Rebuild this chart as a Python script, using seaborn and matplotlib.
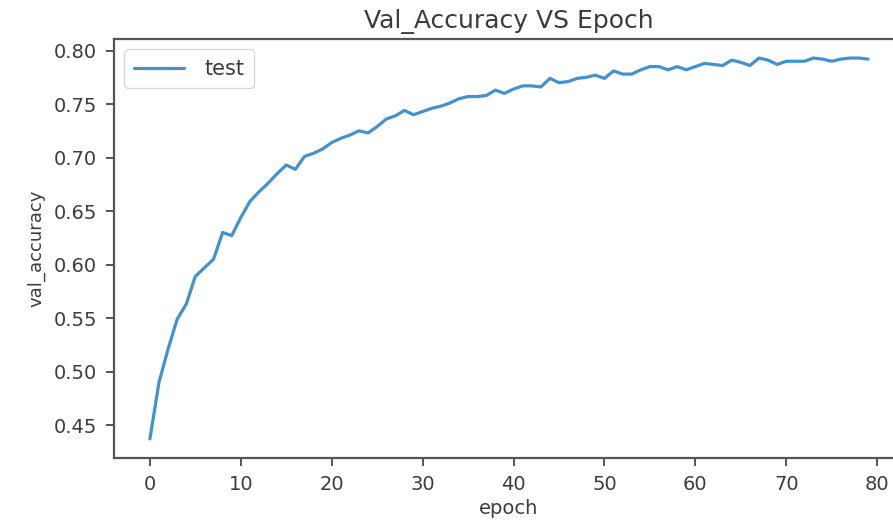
import matplotlib
matplotlib.use('Agg')
import matplotlib.pyplot as plt
import seaborn as sns
import numpy as np

# Validation accuracy per epoch
val_accuracy = [0.437, 0.490, 0.521, 0.549, 0.563, 0.589, 0.597, 0.605, 0.630, 0.627,
                0.644, 0.659, 0.668, 0.676, 0.685, 0.693, 0.689, 0.701, 0.704, 0.708,
                0.714, 0.718, 0.721, 0.725, 0.723, 0.729, 0.736, 0.739, 0.744, 0.740,
                0.743, 0.746, 0.748, 0.751, 0.755, 0.757, 0.757, 0.758, 0.763, 0.760,
                0.764, 0.767, 0.767, 0.766, 0.774, 0.770, 0.771, 0.774, 0.775, 0.777,
                0.774, 0.781, 0.778, 0.778, 0.782, 0.785, 0.785, 0.782, 0.785, 0.782,
                0.785, 0.788, 0.787, 0.786, 0.791, 0.789, 0.786, 0.793, 0.791, 0.787,
                0.790, 0.790, 0.790, 0.793, 0.792, 0.790, 0.792, 0.793, 0.793, 0.792]
epochs = np.arange(len(val_accuracy))
x_ticks = [0, 10, 20, 30, 40, 50, 60, 70, 80]
y_ticks = [0.45, 0.50, 0.55, 0.60, 0.65, 0.70, 0.75, 0.80]

sns.set_style('ticks')
plt.rcParams['font.family'] = ['DejaVu Sans']
text_col = '#3c3c3c'

fig = plt.figure(figsize=(8.93, 5.25), dpi=100)
# axes run past the right edge, like the cropped original
ax = fig.add_axes([114 / 893, 67 / 525, 790 / 893, 419 / 525])

sns.lineplot(x=epochs, y=val_accuracy, ax=ax, label='test',
             color='#4391cd', linewidth=2.3)

ax.set_xticks(x_ticks)
ax.set_yticks(y_ticks)
ax.set_yticklabels([f'{v:.2f}' for v in y_ticks])
ax.margins(x=0.05, y=0.05)

for s in ax.spines.values():
    s.set_visible(True)
    s.set_color('#555555')
    s.set_linewidth(1.6)
ax.tick_params(direction='out', length=6, width=1.4, color='#555555',
               labelsize=14, labelcolor=text_col, pad=6)

ax.set_title('Val_Accuracy VS Epoch', fontsize=18, color=text_col, pad=8)
ax.set_xlabel('epoch', fontsize=14, color=text_col, labelpad=4)
ax.set_ylabel('val_accuracy', fontsize=13, color=text_col, labelpad=6)

leg = ax.legend(loc='upper left', fontsize=15, frameon=True, handlelength=2.4,
                borderpad=0.45, handletextpad=1.0)
leg.get_frame().set_edgecolor('#d0d0d0')
for t in leg.get_texts():
    t.set_color(text_col)

fig.savefig('out.png', dpi=100)
